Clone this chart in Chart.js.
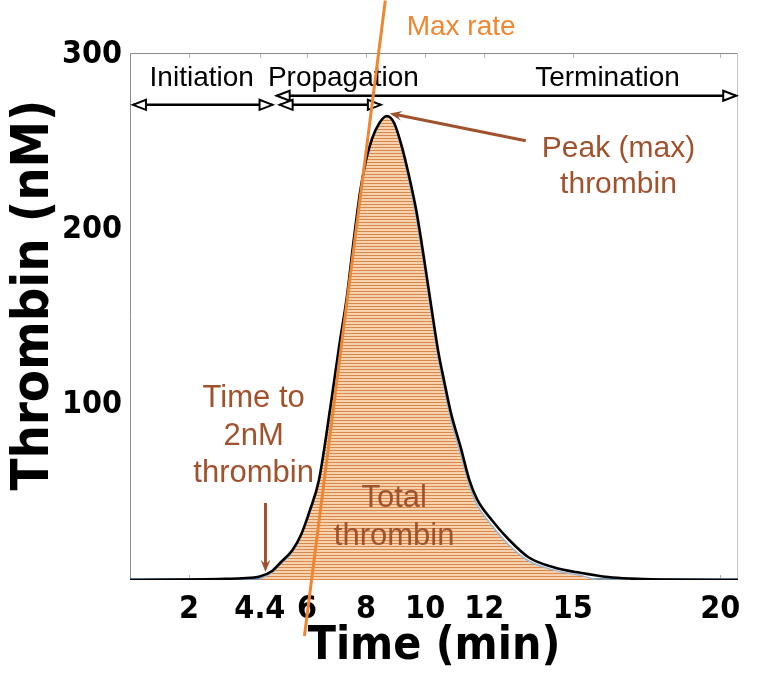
<!DOCTYPE html>
<html><head><meta charset="utf-8">
<script src="https://cdn.jsdelivr.net/npm/chart.js@4"></script>
<style>html,body{margin:0;padding:0;background:#fff}canvas{display:block}</style>
</head><body>
<canvas id="c" width="767" height="683"></canvas>
<script>
// ---- data ----
const timeMin    = [0, 1, 2, 3, 3.8, 4.4, 4.8, 5.1, 5.5, 5.8, 6.1, 6.4, 6.8, 7.1, 7.35, 7.55, 7.8, 8.0, 8.2, 8.45, 8.7, 8.95, 9.22, 9.45, 9.7, 9.95, 10.2, 10.45, 10.64, 10.88, 11.2, 11.5, 11.76, 12.27, 12.84, 13.5, 14.4, 15.3, 16.2, 17, 18, 19, 20.6];
const thrombinNM = [0, 0.1, 0.3, 0.6, 1, 2, 5, 10, 17, 26, 40, 57, 100, 135, 162, 190, 222, 240, 252, 261, 265, 261, 247, 231, 211, 185, 157, 130, 114, 95, 76, 57, 46, 34, 23, 13, 7, 4, 1.7, 0.8, 0.3, 0.1, 0];
const fillTime   = [4.4, 4.8, 5.1, 5.5, 5.8, 6.1, 6.4, 6.8, 7.1, 7.35, 7.55, 7.8, 8.0, 8.2, 8.45, 8.7, 8.95, 9.22, 9.45, 9.7, 9.95, 10.2, 10.45, 10.64, 10.88, 11.2, 11.5, 11.76, 12.27, 12.84, 13.5, 14.4, 15.3, 15.8];
const fillNM     = [0.5, 4, 9, 16, 26, 40, 57, 100, 135, 162, 190, 222, 240, 252, 261, 265, 260, 245, 228, 207, 181, 153, 126, 110, 91, 72, 54, 43, 31, 20, 11, 5.5, 2.5, 0];
const maxRateTime = [5.91, 8.65];
const maxRateNM   = [-32, 331];
const xTickValues = [2, 4.4, 6, 8, 10, 12, 15, 20];
const yTickValues = [100, 200, 300];
const phaseNames  = ['Initiation', 'Propagation', 'Termination'];
const xTitle = 'Time (min)';
const yTitle = 'Thrombin (nM)';

// ---- styles ----
const NARROW = "'Liberation Sans Narrow','DejaVu Sans Condensed','Arial Narrow',sans-serif";
const SANS = "'Liberation Sans',Arial,Helvetica,sans-serif";
const BROWN = '#a0522d';
const ORANGE = '#ee8632';

function makePattern(){
  const p = document.createElement('canvas');
  p.width = 8; p.height = 3;
  const g = p.getContext('2d');
  g.fillStyle = '#f6d2ae'; g.fillRect(0,0,8,3);
  g.fillStyle = '#d9884e'; g.fillRect(0,0,8,1);
  return document.getElementById('c').getContext('2d').createPattern(p,'repeat');
}

const zip = (xs, ys) => xs.map((x,i)=>({x, y: ys[i]}));

function hollowHead(ctx, x, y, dir){
  const L = 13, W = 5;
  ctx.beginPath();
  ctx.moveTo(x, y);
  ctx.lineTo(x - dir*L, y - W);
  ctx.lineTo(x - dir*L, y + W);
  ctx.closePath();
  ctx.fillStyle = '#fff'; ctx.fill();
  ctx.lineWidth = 2; ctx.strokeStyle = '#000'; ctx.stroke();
}
function phaseArrow(ctx, x1, x2, y, lw){
  ctx.beginPath(); ctx.moveTo(x1, y); ctx.lineTo(x2, y);
  ctx.lineWidth = lw; ctx.strokeStyle = '#000'; ctx.stroke();
  hollowHead(ctx, x1, y, -1);
  hollowHead(ctx, x2, y, 1);
}
function solidArrow(ctx, x1, y1, x2, y2){
  const a = Math.atan2(y2-y1, x2-x1), L = 13, s = 0.38;
  ctx.beginPath(); ctx.moveTo(x1,y1);
  ctx.lineTo(x2 - Math.cos(a)*6, y2 - Math.sin(a)*6);
  ctx.lineWidth = 3; ctx.strokeStyle = BROWN; ctx.stroke();
  ctx.beginPath();
  ctx.moveTo(x2, y2);
  ctx.lineTo(x2 - L*Math.cos(a - s), y2 - L*Math.sin(a - s));
  ctx.lineTo(x2 - L*0.6*Math.cos(a), y2 - L*0.6*Math.sin(a));
  ctx.lineTo(x2 - L*Math.cos(a + s), y2 - L*Math.sin(a + s));
  ctx.closePath(); ctx.fillStyle = BROWN; ctx.fill();
}
function lines(ctx, arr, cx, ys){
  arr.forEach((t,i)=>ctx.fillText(t, cx, ys[i]));
}

const overlay = {
  id: 'overlay',
  beforeDatasetsDraw(chart){
    const ctx = chart.ctx, a = chart.chartArea, X = chart.scales.x;
    ctx.save();
    ctx.lineWidth = 1;
    ctx.strokeStyle = '#b5b5b5';
    xTickValues.forEach(v=>{
      const px = Math.round(X.getPixelForValue(v)) + 0.5;
      ctx.beginPath(); ctx.moveTo(px, a.top); ctx.lineTo(px, a.top+5); ctx.stroke();
      ctx.beginPath(); ctx.moveTo(px, a.bottom); ctx.lineTo(px, a.bottom-5); ctx.stroke();
    });
    ctx.strokeStyle = '#8c8c8c';
    ctx.beginPath(); ctx.moveTo(a.left+0.5, a.bottom); ctx.lineTo(a.left+0.5, a.top+0.5); ctx.lineTo(a.right-0.5, a.top+0.5); ctx.stroke();
    ctx.strokeStyle = '#c4c4c4';
    ctx.beginPath(); ctx.moveTo(a.right-0.5, a.top); ctx.lineTo(a.right-0.5, a.bottom); ctx.stroke();
    ctx.strokeStyle = '#7f98b2'; ctx.lineWidth = 2;
    ctx.beginPath(); ctx.moveTo(a.left, a.bottom-1); ctx.lineTo(a.right, a.bottom-1); ctx.stroke();
    // y-axis title
    ctx.translate(48, 295);
    ctx.rotate(-Math.PI/2);
    ctx.fillStyle = '#000'; ctx.textAlign = 'center'; ctx.textBaseline = 'alphabetic';
    ctx.font = 'bold 52px ' + NARROW;
    ctx.fillText(yTitle, 0, 0);
    ctx.restore();
  },
  afterDatasetDraw(chart, args){
    if (args.index !== 1) return;
    const ctx = chart.ctx, X = chart.scales.x, Y = chart.scales.y;
    const px = v => X.getPixelForValue(v), py = v => Y.getPixelForValue(v);
    ctx.save();
    // phase arrows
    phaseArrow(ctx, px(0.1), px(4.83), py(271.4), 2.5);
    phaseArrow(ctx, px(4.97), px(20.54), py(276.6), 2.5);
    phaseArrow(ctx, px(5.07), px(8.5), py(271.4), 2.5);
    // phase labels
    ctx.fillStyle = '#000'; ctx.textAlign = 'center'; ctx.textBaseline = 'alphabetic';
    ctx.font = '28px ' + SANS;
    ctx.fillText(phaseNames[0], px(2.43), py(282.3));
    ctx.fillText(phaseNames[1], px(7.23), py(282.3));
    ctx.fillText(phaseNames[2], px(16.18), py(282.3));
    // max rate label
    ctx.fillStyle = ORANGE;
    ctx.fillText('Max rate', px(11.22), py(311.4));
    // brown annotations
    ctx.fillStyle = BROWN;
    ctx.font = '30px ' + SANS;
    lines(ctx, ['Peak (max)', 'thrombin'], px(16.55), [py(241.7), py(221.1)]);
    ctx.font = '31px ' + SANS;
    lines(ctx, ['Time to', '2nM', 'thrombin'], px(4.19), [py(98.9), py(77.1), py(56)]);
    lines(ctx, ['Total', 'thrombin'], px(8.95), [py(41.7), py(20)]);
    solidArrow(ctx, px(13.41), py(250.9), px(8.8), py(266.5));
    solidArrow(ctx, px(4.59), py(44), px(4.59), py(4.6));
    ctx.restore();
  }
};

new Chart(document.getElementById('c'), {
  type: 'line',
  data: {
    datasets: [
      { data: zip(fillTime, fillNM), fill: 'origin', backgroundColor: makePattern(),
        borderColor: '#9bb5cf', borderWidth: 1.5, pointRadius: 0, cubicInterpolationMode: 'monotone', order: 3 },
      { data: zip(timeMin, thrombinNM), fill: false, borderColor: '#000', borderWidth: 2.6,
        pointRadius: 0, cubicInterpolationMode: 'monotone', order: 2 },
      { data: zip(maxRateTime, maxRateNM), fill: false, borderColor: ORANGE, borderWidth: 3,
        pointRadius: 0, clip: false, order: 1 }
    ]
  },
  options: {
    responsive: false, animation: false, devicePixelRatio: 1,
    layout: { padding: { left: 0, top: 53, right: 29, bottom: 0 } },
    plugins: { legend: { display: false }, tooltip: { enabled: false } },
    scales: {
      x: {
        type: 'linear', min: 0, max: 20.6,
        grid: { display: false, drawTicks: false }, border: { display: false },
        afterBuildTicks: s => { s.ticks = xTickValues.map(v => ({ value: v })); },
        afterFit: s => { s.height = 103; },
        ticks: { color: '#000', padding: 10, maxRotation: 0, autoSkip: false,
          font: { family: NARROW, size: 32, weight: 'bold' }, callback: v => String(v) },
        title: { display: true, text: xTitle, color: '#000', padding: { top: 0, bottom: 8 },
          font: { family: NARROW, size: 46, weight: 'bold' } }
      },
      y: {
        min: 0, max: 301,
        grid: { display: false, drawTicks: false }, border: { display: false },
        afterBuildTicks: s => { s.ticks = yTickValues.map(v => ({ value: v })); },
        afterFit: s => { s.width = 130; },
        ticks: { color: '#000', padding: 8, autoSkip: false,
          font: { family: NARROW, size: 32, weight: 'bold' } },
        title: { display: false }
      }
    }
  },
  plugins: [overlay]
});
</script>
</body></html>
